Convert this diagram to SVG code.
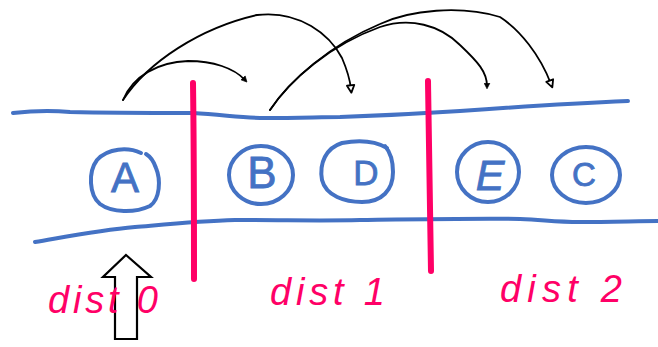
<svg xmlns="http://www.w3.org/2000/svg" width="658" height="347" viewBox="0 0 658 347">
  <style>
    .band { fill: none; stroke: #4472c4; stroke-width: 4; stroke-linecap: round; stroke-linejoin: round; }
    .split { fill: none; stroke: #ff0066; stroke-width: 6; stroke-linecap: round; }
    .ring { fill: none; stroke: #4472c4; stroke-width: 4; stroke-linecap: round; }
    .letter { font-family: "Liberation Sans", "DejaVu Sans", sans-serif; fill: #4472c4; stroke: #4472c4; stroke-width: 0.8; text-anchor: middle; }
    .dist { font-family: "Liberation Sans", "DejaVu Sans", sans-serif; font-style: italic; font-size: 38px; fill: #ff0066; }
    .link { fill: none; stroke: #000; stroke-width: 1.8; stroke-linecap: round; }
    .up { fill: #fff; stroke: #000; stroke-width: 2.2; stroke-linejoin: miter; }
  </style>
  <defs>
    <marker id="tipSolid" viewBox="0 0 10 10" refX="5" refY="5" markerWidth="7" markerHeight="7" markerUnits="userSpaceOnUse" orient="auto">
      <path d="M1,1 L9,5 L1,9 Z" fill="#000" stroke="#000" stroke-width="1"/>
    </marker>
    <marker id="tipOpen" viewBox="0 0 12 12" refX="6" refY="6" markerWidth="11" markerHeight="11" markerUnits="userSpaceOnUse" orient="auto">
      <path d="M2,2 L10,6 L2,10 Z" fill="#fff" stroke="#000" stroke-width="2" stroke-linejoin="round"/>
    </marker>
  </defs>

  <!-- lane edges -->
  <g id="lane">
    <path class="band" d="M13,113 C30,111 50,110 70,112 C110,113 160,113 193,113 C225,115 245,118 265,118 C300,118 320,117 340,117 C400,115 430,113 460,111 C530,106 580,103 628,101"/>
    <path class="band" d="M35,242 C70,236 100,230 135,227 C170,224 200,221 235,220 C290,220 320,221 360,220 C430,219 490,218 520,219 C545,220 555,222 580,222 C610,222 640,221 658,221"/>
  </g>

  <!-- distance boundaries -->
  <g id="boundaries">
    <path class="split" d="M193,83 C194,150 194,220 194,279"/>
    <path class="split" d="M428,81 C429,150 430,220 431,271"/>
  </g>

  <!-- nodes -->
  <g id="node-A">
    <path class="ring" d="M141,153 C128,147 108,148 97,160 C88,172 89,195 100,204 C112,213 135,213 150,206 C160,199 161,180 156,168 C154,162 151,157 146,154"/>
    <text class="letter" x="125" y="192" font-size="42">A</text>
  </g>
  <g id="node-B">
    <ellipse class="ring" cx="261" cy="175" rx="32" ry="29"/>
    <text class="letter" x="262" y="188" font-size="44">B</text>
  </g>
  <g id="node-D">
    <path class="ring" d="M387,148 C375,141 358,140 342,143 C326,148 319,163 322,180 C326,196 345,202 362,202 C382,202 393,190 393,172 C393,161 391,153 385,146"/>
    <text class="letter" x="366" y="185" font-size="35">D</text>
  </g>
  <g id="node-E">
    <ellipse class="ring" cx="488" cy="172" rx="31" ry="30"/>
    <text class="letter" x="490" y="190" font-size="43" font-style="italic">E</text>
  </g>
  <g id="node-C">
    <ellipse class="ring" cx="586" cy="175" rx="34" ry="28"/>
    <text class="letter" x="584" y="186" font-size="33">C</text>
  </g>

  <!-- jumps between nodes -->
  <g id="connectors">
    <path class="link" d="M123,100 C133,76 158,62 188,61 C213,61 234,68 245,80" marker-end="url(#tipSolid)"/>
    <path class="link" d="M123,100 C148,62 200,28 257,15 C300,10 330,35 342,58 C348,72 350,80 351,89" marker-end="url(#tipOpen)"/>
    <path class="link" d="M270,110 C290,80 330,45 380,27 C410,17 440,25 460,45 C478,62 487,72 487,86" marker-end="url(#tipSolid)"/>
    <path class="link" d="M270,110 C290,80 330,45 380,24 C410,10 460,5 500,17 C520,30 540,55 551,84" marker-end="url(#tipOpen)"/>
  </g>

  <!-- start marker -->
  <g id="start-arrow">
    <path class="up" d="M126,255 L151,277 L137,277 L137,339 L115,339 L115,277 L103,277 Z"/>
  </g>

  <!-- distance labels -->
  <g id="labels">
    <text class="dist" x="48" y="313" textLength="110" lengthAdjust="spacing">dist 0</text>
    <text class="dist" x="270" y="305" textLength="115" lengthAdjust="spacing">dist 1</text>
    <text class="dist" x="500" y="302" textLength="122" lengthAdjust="spacing">dist 2</text>
  </g>
</svg>
